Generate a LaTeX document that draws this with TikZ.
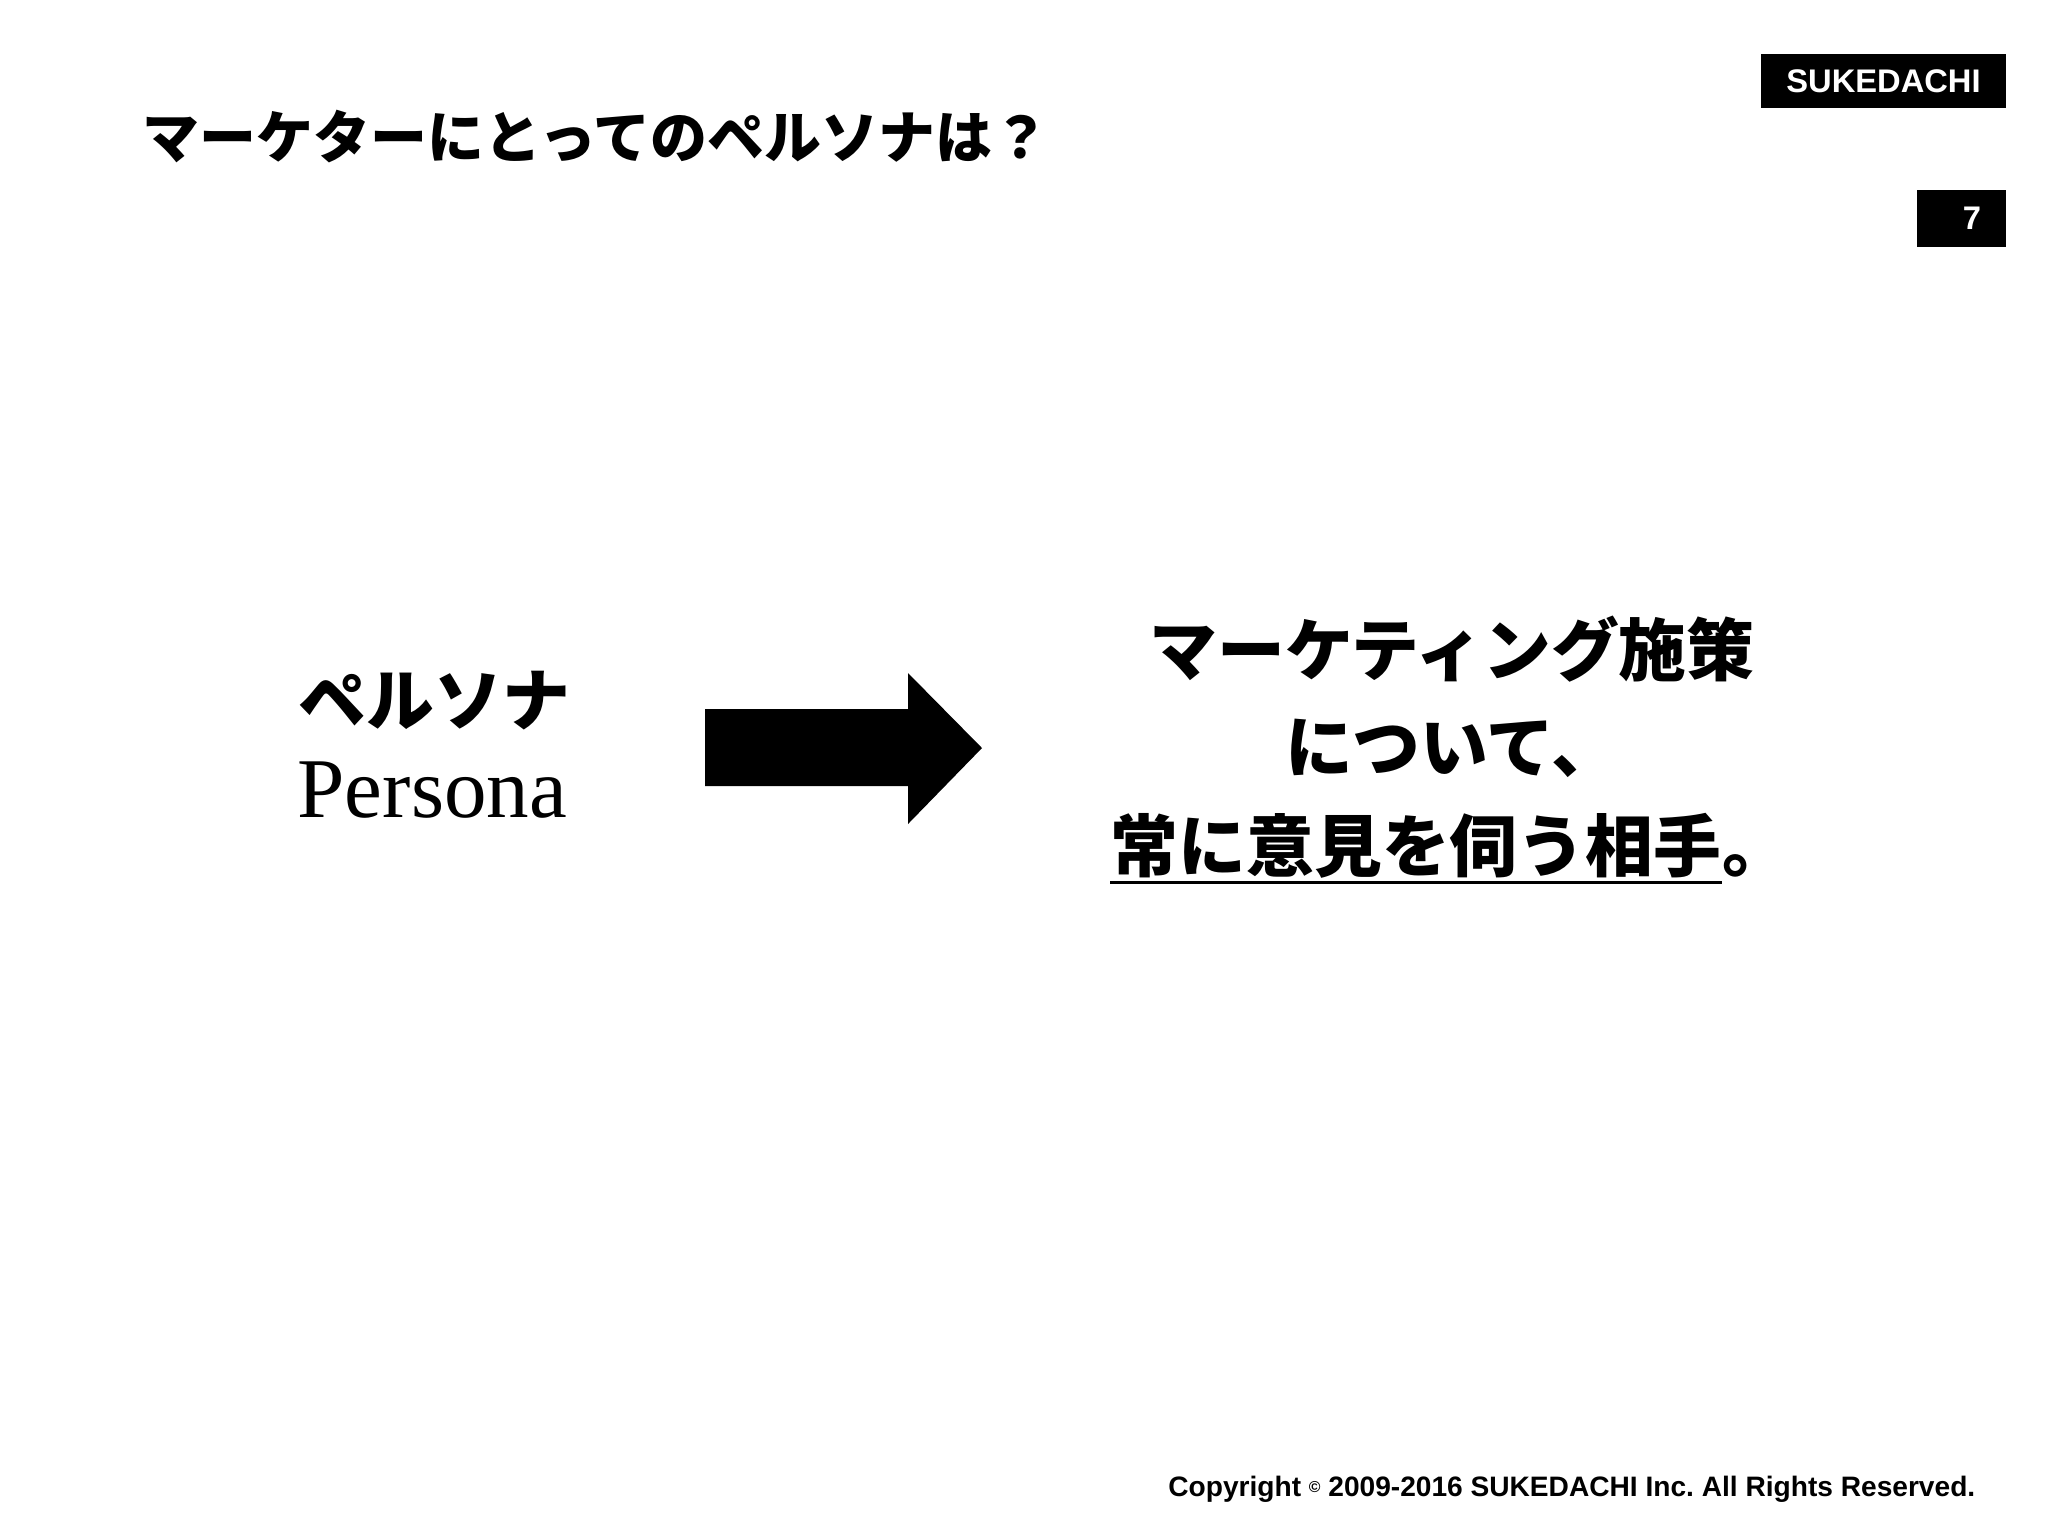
\documentclass[tikz,border=0pt]{standalone}
\usepackage{fontspec}
\newfontfamily\jafont{Noto Sans CJK JP}
\newfontfamily\enserif{Liberation Serif}
\newfontfamily\ensans{Liberation Sans}
\begin{document}
\begin{tikzpicture}[x=0.1mm,y=-0.1mm,
  jtext/.style={inner sep=0pt,font=\jafont\bfseries\fontsize{19.3pt}{19.3pt}\selectfont},
  tag/.style={fill=black,text=white,inner sep=0pt,font=\ensans\bfseries\fontsize{9.3pt}{9.3pt}\selectfont}]
  \fill[white] (0,0) rectangle (2048,1536);
  \useasboundingbox (0,0) rectangle (2048,1536);

  \node[tag,minimum width=24.5mm,minimum height=5.4mm] (logo) at (1883.5,81) {SUKEDACHI};
  \node[tag,minimum height=5.7mm,text width=3.9mm,inner xsep=2.5mm,align=right] (page) at (1961.5,218.5) {7};

  \node[jtext,anchor=west,font=\jafont\bfseries\fontsize{16.2pt}{16.2pt}\selectfont] (title) at (142,137) {マーケターにとってのペルソナは？};

  \node[jtext,anchor=west] (persona) at (298,701) {ペルソナ};
  \node[anchor=west,inner sep=0pt,font=\enserif\fontsize{24.2pt}{24.2pt}\selectfont] (personaen) at (297,790) {Persona};

  % block arrow
  \fill (705,709) -- (908,709) -- (908,673) -- (982,748) -- (908,824) -- (908,786) -- (705,786) -- cycle;

  \node[jtext] (line1) at (1452,649) {マーケティング施策};
  \node[jtext] (line2) at (1452,748) {について、};
  \node[jtext,anchor=west] (aite) at (1110,846) {常に意見を伺う相手};
  \node[jtext,anchor=base west] (maru) at (aite.base east) {。};
  \draw[line width=0.35mm] ([yshift=-0.3mm]aite.south west) -- ([yshift=-0.3mm]aite.south east);

  \node[anchor=east,inner sep=0pt,font=\ensans\bfseries\fontsize{8pt}{8pt}\selectfont] (copy) at (1976,1489)
    {Copyright {\fontsize{4.5pt}{4.5pt}\selectfont\raisebox{0.4ex}{©}} 2009-2016 SUKEDACHI Inc.\ All Rights Reserved.};
\end{tikzpicture}
\end{document}
